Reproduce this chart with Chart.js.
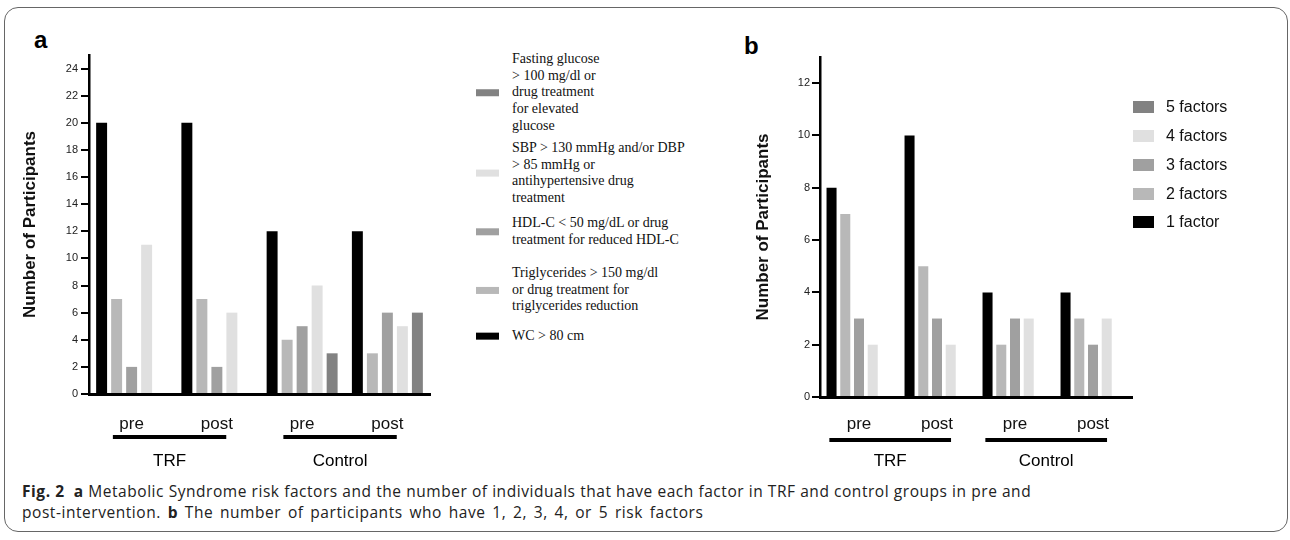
<!DOCTYPE html>
<html>
<head>
<meta charset="utf-8">
<script src="https://cdn.jsdelivr.net/npm/chart.js@4.4.0/dist/chart.umd.min.js"></script>
<style>
    html, body { margin: 0; padding: 0; background: #fff; }
    #fig { position: relative; width: 1290px; height: 540px; overflow: hidden; font-family: "Liberation Sans", Arial, sans-serif; }
    #frame { position: absolute; left: 4px; top: 7px; width: 1284px; height: 525px; border: 1px solid #666; border-radius: 14px; box-sizing: border-box; }
    canvas { position: absolute; top: 0; }
    #chartA { left: 0; }
    #chartB { left: 720px; }
    .panel-tag { position: absolute; font: bold 24px "Liberation Sans", Arial, sans-serif; color: #000; }
    .legend-item { position: absolute; display: flex; align-items: center; transform: translateY(-50%); }
    .legend-a .swatch { width: 23px; height: 7px; margin-right: 13px; flex: none; }
    .legend-a .text { font: 14px/16.7px "Liberation Serif", "Times New Roman", serif; color: #111; white-space: nowrap; }
    .legend-b .swatch { width: 21px; height: 12px; margin-right: 12px; flex: none; }
    .legend-b .text { font: 16px "Liberation Sans", Arial, sans-serif; color: #111; white-space: nowrap; }
    #caption { position: absolute; left: 22px; top: 481px; font: 15.5px/21px "Open Sans", "Noto Sans", sans-serif; letter-spacing: 0.55px; color: #222; white-space: nowrap; }
    #caption b { font-weight: bold; }
    #caption .second { word-spacing: 2.2px; }
</style>
</head>
<body>
<div id="fig">
    <div id="frame"></div>
    <div class="panel-tag" style="left:34px; top:26px;">a</div>
    <div class="panel-tag" style="left:744px; top:32px;">b</div>
    <canvas id="chartA" width="460" height="480"></canvas>
    <canvas id="chartB" width="440" height="480"></canvas>
    <div id="legendA" class="legend-a"></div>
    <div id="legendB" class="legend-b"></div>
    <div id="caption">
        <b>Fig. 2</b>&nbsp; <b>a</b> Metabolic Syndrome risk factors and the number of individuals that have each factor in TRF and control groups in pre and<br>
        <span class="second">post-intervention. <b>b</b> The number of participants who have 1, 2, 3, 4, or 5 risk factors</span>
    </div>
</div>
<script>
// categories on the x axis and the two groups under them
const categories = ['pre', 'post', 'pre', 'post'];
const groupLabels = ['TRF', 'Control'];

// panel a: participants having each risk factor
const wcValues = [20, 20, 12, 12];
const triglycerideValues = [7, 7, 4, 3];
const hdlValues = [2, 2, 5, 6];
const sbpValues = [11, 6, 8, 5];
const glucoseValues = [0, 0, 3, 6];

// panel b: participants by number of risk factors
const oneFactor = [8, 10, 4, 4];
const twoFactors = [7, 5, 2, 3];
const threeFactors = [3, 3, 3, 2];
const fourFactors = [2, 2, 3, 3];
const fiveFactors = [0, 0, 0, 0];

// y axis ticks
const ticksA = [0, 2, 4, 6, 8, 10, 12, 14, 16, 18, 20, 22, 24];
const ticksB = [0, 2, 4, 6, 8, 10, 12];
const yMaxA = 25;
const yMaxB = 13;

const labelsA = [
    ['WC > 80 cm'],
    ['Triglycerides > 150 mg/dl', 'or drug treatment for', 'triglycerides reduction'],
    ['HDL-C < 50 mg/dL or drug', 'treatment for reduced HDL-C'],
    ['SBP > 130 mmHg and/or DBP', '> 85 mmHg or', 'antihypertensive drug', 'treatment'],
    ['Fasting glucose', '> 100 mg/dl or', 'drug treatment', 'for elevated', 'glucose']
];
const labelsB = ['1 factor', '2 factors', '3 factors', '4 factors', '5 factors'];
const shades = ['#000000', '#b8b8b8', '#a0a0a0', '#e0e0e0', '#828282'];

const datasetsA = [wcValues, triglycerideValues, hdlValues, sbpValues, glucoseValues].map((data, i) => ({
    label: labelsA[i], data: data, backgroundColor: shades[i]
}));
const datasetsB = [oneFactor, twoFactors, threeFactors, fourFactors, fiveFactors].map((data, i) => ({
    label: labelsB[i], data: data, backgroundColor: shades[i]
}));

const tickFont = { family: '"Liberation Sans", Arial, sans-serif', size: 11 };

// draws the thick line and the group name under each pair of categories
const groupLinePlugin = {
    id: 'groupLines',
    afterDraw(chart, args, opts) {
        const x = chart.scales.x;
        const ctx = chart.ctx;
        const w = x.getPixelForValue(1) - x.getPixelForValue(0);
        const bottom = chart.chartArea.bottom;
        ctx.save();
        groupLabels.forEach((g, i) => {
            const x0 = x.getPixelForValue(i * 2) - opts.before * w;
            const x1 = x.getPixelForValue(i * 2 + 1) + opts.after * w;
            ctx.fillStyle = '#000';
            ctx.fillRect(x0, bottom + opts.lineOffset - 2, x1 - x0, 4);
            ctx.font = '17px "Liberation Sans", Arial, sans-serif';
            ctx.textAlign = 'center';
            ctx.textBaseline = 'middle';
            ctx.fillText(g, (x0 + x1) / 2, bottom + opts.textOffset);
        });
        ctx.restore();
    }
};

const makeChart = (id, datasets, cfg) => new Chart(document.getElementById(id), {
    type: 'bar',
    data: {
        labels: categories,
        datasets: datasets.map(d => Object.assign({
            borderWidth: 0,
            categoryPercentage: 0.88,
            barPercentage: 0.73
        }, d))
    },
    plugins: [groupLinePlugin],
    options: {
        responsive: false,
        animation: false,
        devicePixelRatio: 1,
        layout: { padding: cfg.padding },
        plugins: {
            legend: { display: false },
            tooltip: { enabled: false },
            groupLines: cfg.groups
        },
        scales: {
            x: {
                grid: { display: false },
                border: { color: '#000', width: 3 },
                ticks: { color: '#111', padding: cfg.xPad, font: { family: tickFont.family, size: 17 } },
                afterFit: s => { s.height = cfg.xHeight; }
            },
            y: {
                min: 0,
                max: cfg.max,
                grid: { drawOnChartArea: false, color: '#000', lineWidth: 2, tickLength: 8 },
                border: { color: '#000', width: 2.5 },
                ticks: { color: '#222', padding: cfg.yPad, font: tickFont },
                afterBuildTicks: s => { s.ticks = cfg.ticks.map(v => ({ value: v })); },
                afterFit: s => { s.width = cfg.yWidth; },
                title: {
                    display: true,
                    text: 'Number of Participants',
                    color: '#111',
                    padding: { top: 0, bottom: 0 },
                    font: { family: tickFont.family, size: 17, weight: 'bold' }
                }
            }
        }
    }
});

makeChart('chartA', datasetsA, {
    padding: { top: 55, left: 20, right: 30, bottom: 0 },
    max: yMaxA, ticks: ticksA, yWidth: 69, xHeight: 86, xPad: 12, yPad: 3,
    groups: { before: 0.22, after: 0.11, lineOffset: 43, textOffset: 67 }
});
makeChart('chartB', datasetsB, {
    padding: { top: 57, left: 33, right: 28, bottom: 0 },
    max: yMaxB, ticks: ticksB, yWidth: 67, xHeight: 83, xPad: 9, yPad: 2,
    groups: { before: 0.38, after: 0.18, lineOffset: 43, textOffset: 64 }
});

// html legends, listed bottom series last like the original figure
const buildLegend = (el, datasets, left, centers) => {
    datasets.slice().reverse().forEach((d, i) => {
        const item = document.createElement('div');
        item.className = 'legend-item';
        item.style.left = left + 'px';
        item.style.top = centers[i] + 'px';
        const sw = document.createElement('span');
        sw.className = 'swatch';
        sw.style.background = d.backgroundColor;
        const tx = document.createElement('span');
        tx.className = 'text';
        tx.innerHTML = [].concat(d.label).map(t => t.replace(/</g, '&lt;').replace(/>/g, '&gt;')).join('<br>');
        item.appendChild(sw);
        item.appendChild(tx);
        el.appendChild(item);
    });
};
buildLegend(document.getElementById('legendA'), datasetsA, 476, [93, 173, 232, 290, 336]);
buildLegend(document.getElementById('legendB'), datasetsB, 1133, [107, 136, 165, 194, 222]);
</script>
</body>
</html>
